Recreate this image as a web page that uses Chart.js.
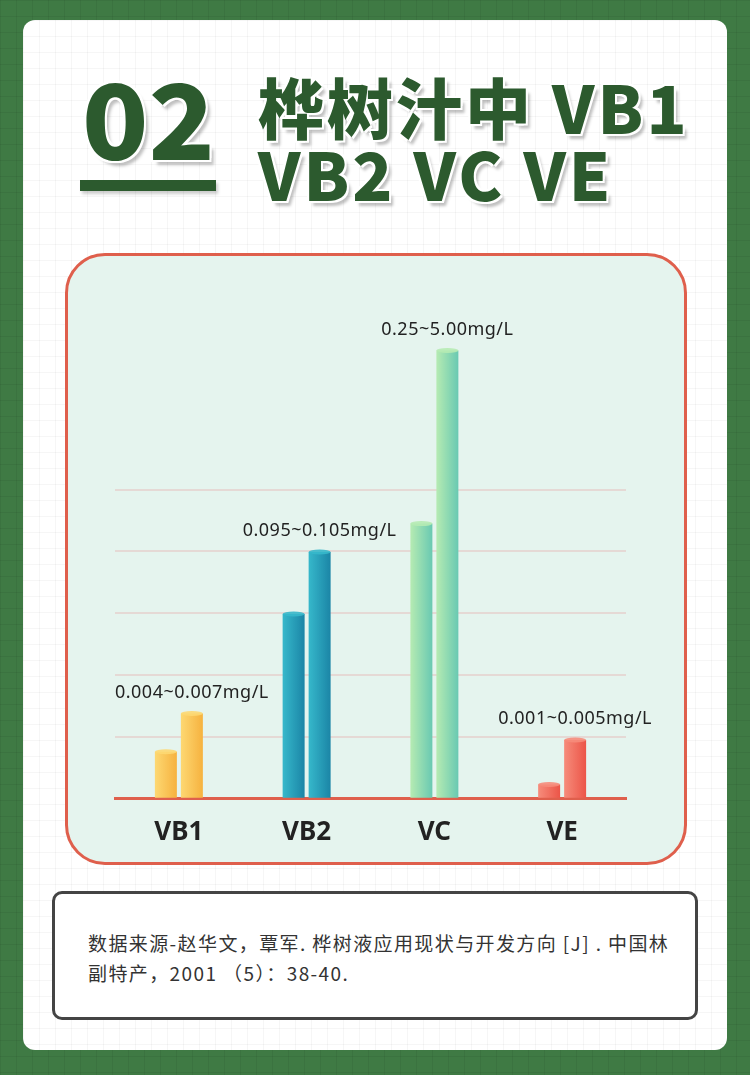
<!DOCTYPE html>
<html>
<head>
<meta charset="utf-8">
<script src="https://cdn.jsdelivr.net/npm/chart.js@4/dist/chart.umd.min.js"></script>
<style>
  html, body { margin: 0; padding: 0; }
  body {
    width: 750px; height: 1075px; position: relative; overflow: hidden;
    background-color: #3f7a44;
    background-image:
      linear-gradient(rgba(0,0,0,0.06) 1px, transparent 1px),
      linear-gradient(90deg, rgba(0,0,0,0.06) 1px, transparent 1px);
    background-size: 16px 16px;
    font-family: "Noto Sans CJK SC", "Noto Sans", sans-serif;
  }
  .card {
    position: absolute; left: 23px; top: 20px; width: 704px; height: 1030px;
    border-radius: 12px; background-color: #fff;
    background-image:
      linear-gradient(rgba(0,0,0,0.035) 1px, transparent 1px),
      linear-gradient(90deg, rgba(0,0,0,0.035) 1px, transparent 1px);
    background-size: 16px 16px;
  }
  .title {
    position: absolute; color: #2c5a2e; font-weight: 900;
    font-family: "Noto Sans CJK SC", sans-serif;
    text-shadow: -2px -2px 0 #fff, 2px -2px 0 #fff, -2px 2px 0 #fff, 2px 2px 0 #fff,
                 4px 5px 3px rgba(0,0,0,0.25);
    white-space: nowrap;
  }
  .num { left: 82px; top: 60px; font-size: 104px; line-height: 110px; transform: scaleX(1.05); transform-origin: left; }
  .under { position: absolute; left: 80px; top: 180px; width: 136px; height: 11px; background: #2c5a2e;
           box-shadow: 2px 3px 3px rgba(0,0,0,0.2); }
  .head { left: 258px; top: 72px; font-size: 66px; line-height: 67px; letter-spacing: 3px; }
  .panel {
    position: absolute; left: 65px; top: 253px; width: 616px; height: 606px;
    border: 3px solid #df5f4c; border-radius: 40px; background: #e5f4ee;
  }
  .chartbox { position: absolute; left: 65px; top: 253px; width: 622px; height: 612px; }
  .note {
    position: absolute; left: 52px; top: 891px; width: 640px; height: 123px;
    border: 3px solid #444; border-radius: 10px; background: #fff;
  }
  .note p { margin: 0; position: absolute; left: 33px; top: 34px; font-size: 19px; line-height: 30px;
            letter-spacing: 1.4px; color: #333; white-space: nowrap; }
</style>
</head>
<body>
<div class="card"></div>
<div class="title num">02</div>
<div class="under"></div>
<div class="title head">桦树汁中 VB1<br>VB2 VC VE</div>
<div class="panel"></div>
<div class="chartbox"><canvas id="vitChart" width="622" height="612"></canvas></div>
<div class="note"><p>数据来源-赵华文，覃军. 桦树液应用现状与开发方向 [J] . 中国林<br>副特产，2001 （5）：38-40.</p></div>

<script>
// categories and the two bar heights (drawn height)
const categories = ["VB1", "VB2", "VC", "VE"];
const lowValues = [0.76, 2.99, 4.45, 0.23];
const highValues = [1.38, 3.99, 7.25, 0.95];
const rangeLabels = ["0.004~0.007mg/L", "0.095~0.105mg/L", "0.25~5.00mg/L", "0.001~0.005mg/L"];

// left / right colours of each cylinder
const barColors = [
  ["#fdd872", "#f6b23f"],
  ["#36b8cb", "#1b85a6"],
  ["#b6ebb2", "#69c9b2"],
  ["#f68c7b", "#ec5548"]
];

// shade bars left->right once their positions are known
const shadePlugin = {
  id: "shade",
  beforeDatasetsDraw(chart) {
    const c = chart.ctx;
    chart.data.datasets.forEach((ds, d) => {
      chart.getDatasetMeta(d).data.forEach((bar, i) => {
        const g = c.createLinearGradient(bar.x - bar.width / 2, 0, bar.x + bar.width / 2, 0);
        g.addColorStop(0, barColors[i][0]);
        g.addColorStop(1, barColors[i][1]);
        bar.options.backgroundColor = g;
      });
    });
  },
  // cylinder caps + range labels
  afterDatasetsDraw(chart) {
    const c = chart.ctx;
    chart.data.datasets.forEach((ds, d) => {
      chart.getDatasetMeta(d).data.forEach((bar, i) => {
        c.save();
        c.fillStyle = barColors[i][0];
        c.globalAlpha = 0.9;
        c.beginPath();
        c.ellipse(bar.x, bar.y, bar.width / 2, 2.5, 0, 0, Math.PI * 2);
        c.fill();
        c.restore();
      });
    });
    const hi = chart.getDatasetMeta(1).data;
    c.save();
    c.fillStyle = "#222";
    c.font = "18px 'Noto Sans', sans-serif";
    c.letterSpacing = "0.5px";
    c.textAlign = "center";
    c.textBaseline = "middle";
    hi.forEach((bar, i) => {
      c.fillText(rangeLabels[i], bar.x, bar.y - 21);
    });
    c.restore();
  }
};

new Chart(document.getElementById("vitChart"), {
  type: "bar",
  data: {
    labels: categories,
    datasets: [
      { label: "low", data: lowValues, backgroundColor: ctx => barColors[ctx.dataIndex][0] },
      { label: "high", data: highValues, backgroundColor: ctx => barColors[ctx.dataIndex][1] }
    ]
  },
  options: {
    responsive: false,
    animation: false,
    devicePixelRatio: 1,
    categoryPercentage: 0.407,
    barPercentage: 0.846,
    layout: { padding: { left: 50, right: 61, top: 82, bottom: 7 } },
    plugins: { legend: { display: false }, tooltip: { enabled: false } },
    scales: {
      x: {
        grid: { display: false },
        border: { color: "#df5f4c", width: 3 },
        ticks: { color: "#222", padding: 10, font: { family: "'Noto Sans', sans-serif", size: 26, weight: "bold" } }
      },
      y: {
        display: true,
        min: 0, max: 7.5,
        border: { display: false },
        ticks: { display: false, stepSize: 1 },
        grid: {
          drawTicks: false,
          lineWidth: 2,
          color: ctx => (ctx.tick && ctx.tick.value >= 1 && ctx.tick.value <= 5) ? "#e5d9d5" : "rgba(0,0,0,0)"
        }
      }
    }
  },
  plugins: [shadePlugin]
});
</script>
</body>
</html>
